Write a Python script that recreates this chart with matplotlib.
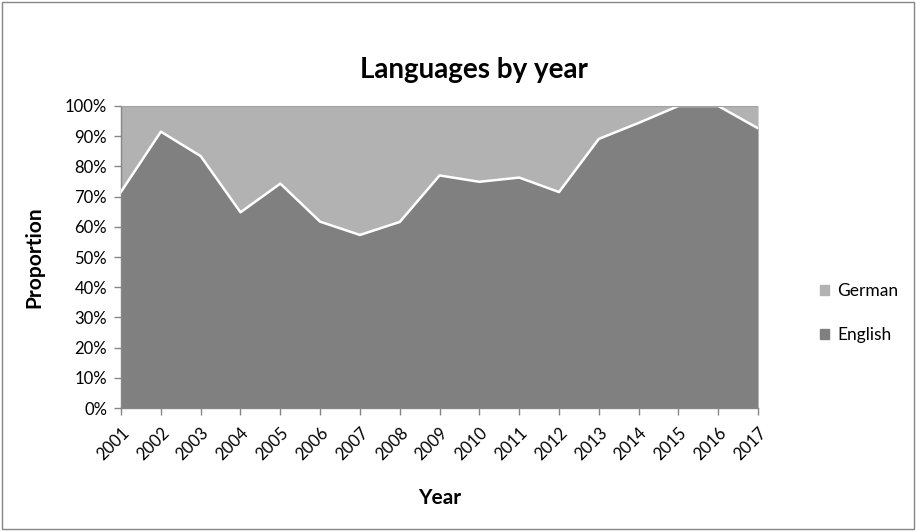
import matplotlib
matplotlib.use("Agg")
import matplotlib.pyplot as plt
from matplotlib.patches import Rectangle, Patch
from matplotlib.ticker import PercentFormatter

plt.rcParams["font.family"] = ["Lato", "DejaVu Sans"]

years = list(range(2001, 2018))
english = [0.716, 0.915, 0.834, 0.648, 0.743, 0.617, 0.573, 0.616, 0.770,
           0.749, 0.763, 0.715, 0.891, 0.944, 1.000, 1.000, 0.926]
german = [0.284, 0.085, 0.166, 0.352, 0.257, 0.383, 0.427, 0.384, 0.230,
          0.251, 0.237, 0.285, 0.109, 0.056, 0.000, 0.000, 0.074]

ENG_COLOR = "#808080"
GER_COLOR = "#b2b2b2"
AXIS_COLOR = "#868686"

fig = plt.figure(figsize=(9.17, 5.31), dpi=100)
ax = fig.add_axes([0.132, 0.2316, 0.6947, 0.5688])

top = [e + g for e, g in zip(english, german)]
ax.fill_between(years, 0, english, color=ENG_COLOR, lw=0, zorder=2)
ax.fill_between(years, english, top, color=GER_COLOR, lw=0, zorder=2)
ax.plot(years, english, color="white", lw=1.8, zorder=3)
ax.plot(years, top, color="#a0a0a0", lw=0.8, zorder=3)

ax.set_xlim(years[0], years[-1])
ax.set_ylim(0, 1)
ax.set_yticks([i / 10 for i in range(11)])
ax.yaxis.set_major_formatter(PercentFormatter(1.0, decimals=0))
ax.set_xticks(years)
ax.set_xticklabels([str(y) for y in years], rotation=45, ha="right",
                   rotation_mode="anchor")

for side in ["top", "right"]:
    ax.spines[side].set_visible(False)
for side in ["left", "bottom"]:
    ax.spines[side].set_color(AXIS_COLOR)
    ax.spines[side].set_linewidth(1.0)
ax.tick_params(axis="both", color=AXIS_COLOR, length=5, width=1.0,
               labelsize=12, labelcolor="black")
ax.tick_params(axis="x", pad=7)
ax.tick_params(axis="y", pad=5)

ax.set_ylabel("Proportion", fontsize=15, fontweight="bold")
ax.set_xlabel("Year", fontsize=15, fontweight="bold")
ax.yaxis.set_label_coords(-0.12, 0.5)
ax.xaxis.set_label_coords(0.5, -0.265)
fig.text(0.517, 0.868, "Languages by year", ha="center", va="center",
         fontsize=20, fontweight="bold")

handles = [Patch(color=GER_COLOR, label="German"),
           Patch(color=ENG_COLOR, label="English")]
fig.legend(handles=handles, loc="center left", bbox_to_anchor=(0.877, 0.41),
           frameon=False, fontsize=12.5, handlelength=0.5, handleheight=0.5,
           handletextpad=0.5, labelspacing=1.6)

# outer chart border
fig.patches.append(Rectangle((0.002, 0.003), 0.995, 0.994,
                             transform=fig.transFigure, fill=False,
                             edgecolor="#868686", lw=1.0))

fig.savefig("out.png", dpi=100)
